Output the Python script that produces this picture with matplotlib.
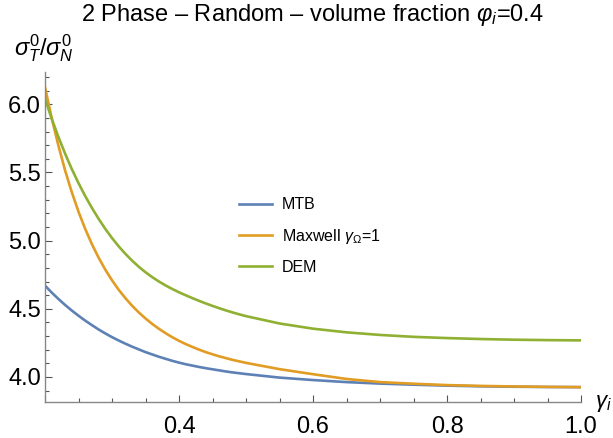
import matplotlib
matplotlib.use("Agg")
import matplotlib.pyplot as plt
from matplotlib.ticker import MultipleLocator, FixedLocator

plt.rcParams['font.family'] = ['Liberation Sans', 'DejaVu Sans']
plt.rcParams['mathtext.fontset'] = 'custom'
plt.rcParams['mathtext.it'] = 'Liberation Sans:italic'
plt.rcParams['mathtext.rm'] = 'Liberation Sans'

# data
gamma_i = [0.20, 0.21, 0.22, 0.23, 0.24, 0.25, 0.26, 0.27, 0.28, 0.29,
           0.30, 0.31, 0.32, 0.33, 0.34, 0.35, 0.36, 0.37, 0.38, 0.39,
           0.40, 0.41, 0.42, 0.43, 0.44, 0.45, 0.46, 0.47, 0.48, 0.49,
           0.50, 0.55, 0.60, 0.65, 0.70, 0.75, 0.80, 0.85, 0.90, 0.95, 1.00]
mtb = [4.670, 4.619, 4.572, 4.528, 4.487, 4.449, 4.413, 4.380, 4.348, 4.319,
       4.292, 4.267, 4.244, 4.222, 4.202, 4.182, 4.165, 4.148, 4.133, 4.118,
       4.105, 4.093, 4.083, 4.073, 4.064, 4.056, 4.048, 4.040, 4.033, 4.027,
       4.021, 3.995, 3.977, 3.962, 3.951, 3.943, 3.936, 3.931, 3.928, 3.926, 3.925]
maxwell = [6.125, 5.899, 5.697, 5.515, 5.355, 5.212, 5.086, 4.974, 4.875, 4.787,
           4.709, 4.639, 4.578, 4.522, 4.473, 4.429, 4.389, 4.353, 4.321, 4.291,
           4.265, 4.241, 4.220, 4.200, 4.182, 4.166, 4.151, 4.138, 4.125, 4.114,
           4.103, 4.057, 4.020, 3.985, 3.962, 3.950, 3.940, 3.934, 3.930, 3.927, 3.925]
dem = [6.040, 5.894, 5.761, 5.638, 5.525, 5.422, 5.327, 5.240, 5.160, 5.086,
       5.019, 4.958, 4.903, 4.853, 4.808, 4.768, 4.732, 4.700, 4.671, 4.645,
       4.621, 4.599, 4.578, 4.558, 4.539, 4.521, 4.504, 4.488, 4.473, 4.459,
       4.446, 4.392, 4.354, 4.327, 4.308, 4.294, 4.285, 4.278, 4.273, 4.270, 4.268]
series_labels = ['MTB', r'Maxwell $\gamma_\Omega$=1', 'DEM']
x_major = [0.2, 0.4, 0.6, 0.8, 1.0]
x_major_labels = ['', '0.4', '0.6', '0.8', '1.0']
y_major = [4.0, 4.5, 5.0, 5.5, 6.0]
y_major_labels = ['4.0', '4.5', '5.0', '5.5', '6.0']

colors = ['#5E81B5', '#E19C24', '#8FB032']

fig = plt.figure(figsize=(6.13, 4.38), dpi=100)
ax = fig.add_axes([45/613, 1-402/438, (581-45)/613, (402-72)/438])

for ys, c, lab in zip([mtb, maxwell, dem], colors, series_labels):
    ax.plot(gamma_i, ys, color=c, lw=1.9, label=lab, solid_joinstyle='round')

ax.set_xlim(0.2, 1.0)
ax.set_ylim(3.816, 6.237)

for s in ['top', 'right']:
    ax.spines[s].set_visible(False)
for s in ['left', 'bottom']:
    ax.spines[s].set_color('#888888')
    ax.spines[s].set_linewidth(1.0)

ax.xaxis.set_major_locator(FixedLocator(x_major))
ax.set_xticklabels(x_major_labels)
ax.xaxis.set_minor_locator(MultipleLocator(0.05))
ax.yaxis.set_major_locator(FixedLocator(y_major))
ax.set_yticklabels(y_major_labels)
ax.yaxis.set_minor_locator(MultipleLocator(0.1))

ax.tick_params(which='major', direction='in', length=5, width=0.8, color='#555555',
               labelsize=17, pad=3)
ax.tick_params(which='minor', direction='in', length=3, width=0.8, color='#555555')
ax.tick_params(axis='x', which='major', pad=10)

fig.text(312/613, 1-15/438, r'2 Phase – Random – volume fraction $\varphi_i$=0.4',
         ha='center', va='center', fontsize=17)
fig.text(14/613, 1-48/438, r'$\sigma_T^0/\sigma_N^0$', ha='left', va='center', fontsize=17)
fig.text(595/613, 1-404/438, r'$\gamma_i$', ha='left', va='center', fontsize=16)

leg = ax.legend(loc='center left', bbox_to_anchor=(239/613, 1-236/438),
                bbox_transform=fig.transFigure, borderpad=0, borderaxespad=0,
                frameon=False, fontsize=11.5, handlelength=2.06, handletextpad=0.62,
                labelspacing=0.9)

fig.savefig('out.png', dpi=100)
